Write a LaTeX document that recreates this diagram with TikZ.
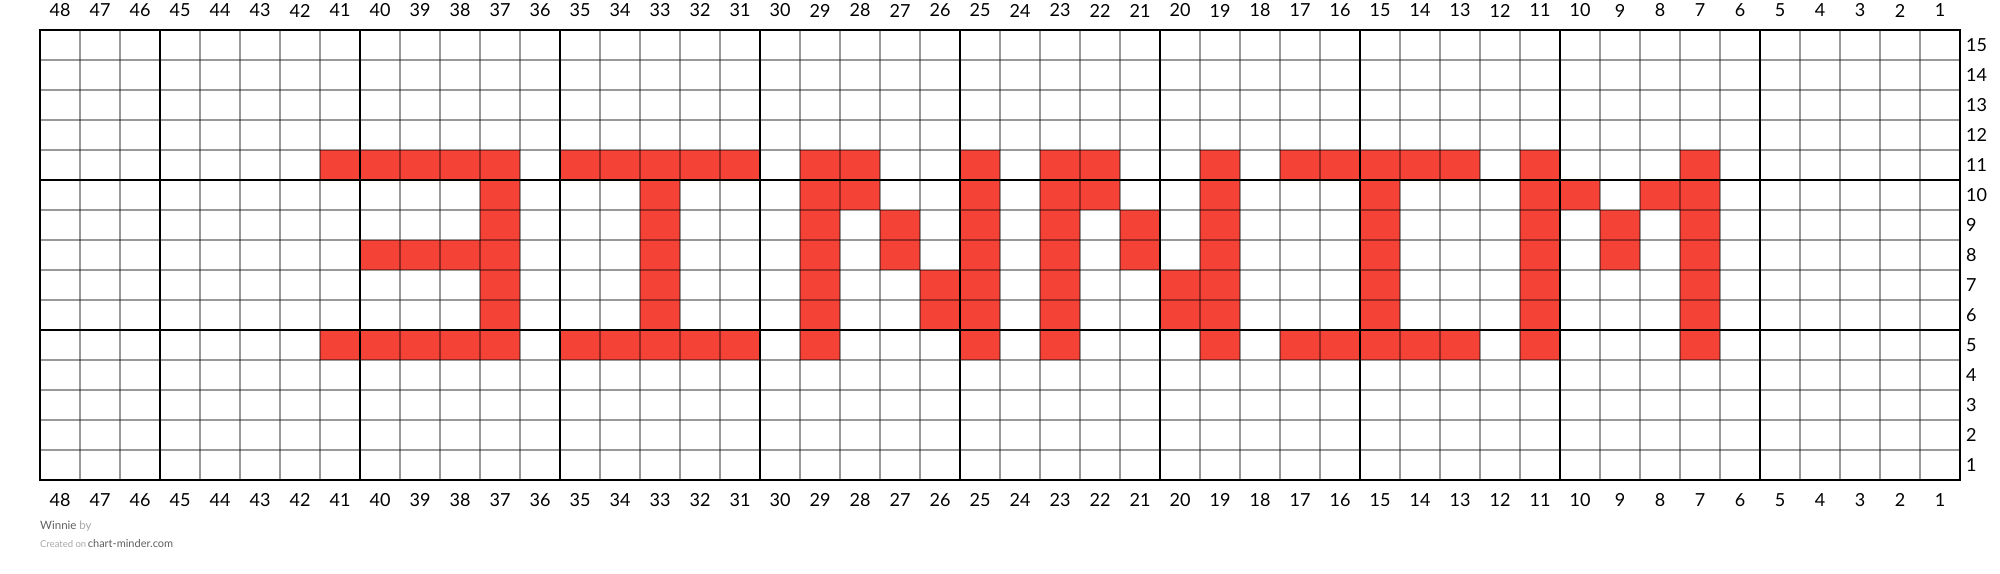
\documentclass[tikz,border=0pt]{standalone}
\usepackage{fontspec}
\setmainfont{Lato}
\definecolor{cellred}{HTML}{F44336}
\definecolor{footdark}{HTML}{606060}
\definecolor{footlight}{HTML}{A8A8A8}
\begin{document}
\begin{tikzpicture}[x=1pt,y=-1pt,
  cell/.style={fill=cellred},
  thinline/.style={draw=black, draw opacity=0.4, line width=1.1pt},
  thickline/.style={draw=black, line width=2.2pt},
  borderline/.style={draw=black, line width=2.8pt},
  lbl/.style={inner sep=0pt, font=\fontsize{18}{18}\selectfont},
  rlbl/.style={inner sep=0pt, anchor=west, font=\fontsize{18}{18}\selectfont}]
\useasboundingbox (0,0) rectangle (2000,573);
\fill[white] (0,0) rectangle (2000,573);
% red cells (column numbered from right, row numbered from bottom)
\foreach \c/\r in {
  41/11,40/11,39/11,38/11,37/11,35/11,34/11,33/11,32/11,31/11,29/11,28/11,25/11,23/11,22/11,19/11,17/11,16/11,15/11,14/11,13/11,11/11,7/11,
  37/10,33/10,29/10,28/10,25/10,23/10,22/10,19/10,15/10,11/10,10/10,8/10,7/10,
  37/9,33/9,29/9,27/9,25/9,23/9,21/9,19/9,15/9,11/9,9/9,7/9,
  40/8,39/8,38/8,37/8,33/8,29/8,27/8,25/8,23/8,21/8,19/8,15/8,11/8,9/8,7/8,
  37/7,33/7,29/7,26/7,25/7,23/7,20/7,19/7,15/7,11/7,7/7,
  37/6,33/6,29/6,26/6,25/6,23/6,20/6,19/6,15/6,11/6,7/6,
  41/5,40/5,39/5,38/5,37/5,35/5,34/5,33/5,32/5,31/5,29/5,25/5,23/5,19/5,17/5,16/5,15/5,14/5,13/5,11/5,7/5}
  \fill[cell] ({40+(48-\c)*40},{30+(15-\r)*30}) rectangle +(40,30);
% thin grid lines
\foreach \i in {1,...,47} \draw[thinline] ({40+\i*40},30) -- ({40+\i*40},480);
\foreach \j in {1,...,14} \draw[thinline] (40,{30+\j*30}) -- (1960,{30+\j*30});
% thick lines every five
\foreach \k in {1,...,9} \draw[thickline] ({40+(48-5*\k)*40},30) -- ({40+(48-5*\k)*40},480);
\draw[thickline] (40,180) -- (1960,180);
\draw[thickline] (40,330) -- (1960,330);
\draw[borderline] (40,30) rectangle (1960,480);
% column labels
\foreach \c in {1,...,48} {
  \node[lbl] (top\c) at ({60+(48-\c)*40},10.5) {\c};
  \node[lbl] (bot\c) at ({60+(48-\c)*40},500) {\c};
}
% row labels
\foreach \r in {1,...,15}
  \node[rlbl] (row\r) at (1966,{45+(15-\r)*30}) {\r};
% footer
\node[anchor=base west, inner sep=0pt, font=\fontsize{11.5}{12}\selectfont] (foot1) at (40,529)
  {\textcolor{footdark}{Winnie} \textcolor{footlight}{by}};
\node[anchor=base west, inner sep=0pt] (foot2) at (40,547)
  {\fontsize{9.5}{10}\selectfont\textcolor{footlight}{Created on}\,\fontsize{11}{12}\selectfont\textcolor{footdark}{chart-minder.com}};
\end{tikzpicture}
\end{document}
